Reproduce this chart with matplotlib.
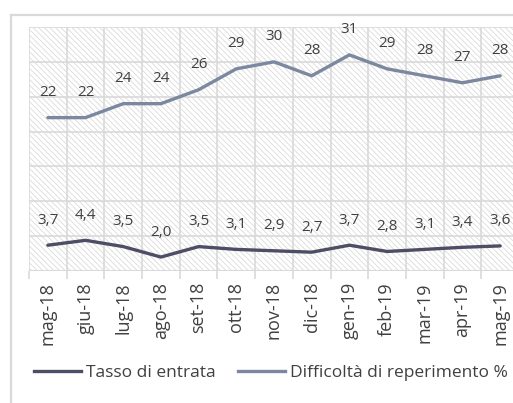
import matplotlib.pyplot as plt
from matplotlib.patches import Rectangle
from matplotlib.lines import Line2D

# Data
months = ['mag-18', 'giu-18', 'lug-18', 'ago-18', 'set-18', 'ott-18', 'nov-18',
          'dic-18', 'gen-19', 'feb-19', 'mar-19', 'apr-19', 'mag-19']
tasso = [3.7, 4.4, 3.5, 2.0, 3.5, 3.1, 2.9, 2.7, 3.7, 2.8, 3.1, 3.4, 3.6]
difficolta = [22, 22, 24, 24, 26, 29, 30, 28, 31, 29, 28, 27, 28]

W, H = 513, 403
plt.rcParams['font.family'] = ['Open Sans', 'DejaVu Sans']
plt.rcParams['hatch.linewidth'] = 0.5
plt.rcParams['hatch.color'] = '#d4d4d4'

fig = plt.figure(figsize=(W / 100, H / 100), dpi=100)
ax = fig.add_axes([29 / W, (H - 271) / H, 490 / W, 244 / H])

grid_c = '#d9d9d9'
text_c = '#404040'
c_tasso = '#4e4d66'
c_diff = '#7b88a0'

x = list(range(len(months)))
ax.set_xlim(-0.5, len(months) - 0.5)
ax.set_ylim(0, 35)

# hatched background
ax.add_patch(Rectangle((-0.5, 0), len(months), 35, facecolor='white',
                       edgecolor='#d4d4d4', hatch='\\' * 6, lw=0, zorder=0))

# grid
for yv in range(5, 36, 5):
    ax.axhline(yv, color=grid_c, lw=1.2, zorder=1)
for xv in range(len(months) + 1):
    ax.axvline(xv - 0.5, color=grid_c, lw=1.2, zorder=1)
ax.axhline(0, color=grid_c, lw=1.5, zorder=1)

ax.plot(x, tasso, color=c_tasso, lw=2.4, zorder=3, solid_capstyle='round')
ax.plot(x, difficolta, color=c_diff, lw=2.4, zorder=3, solid_capstyle='round')

for xi, v in zip(x, tasso):
    ax.annotate(f'{v:.1f}'.replace('.', ','), (xi, v), xytext=(0, 18),
                textcoords='offset points', ha='center', va='center',
                fontsize=11, color=text_c, zorder=4)
for xi, v in zip(x, difficolta):
    ax.annotate(f'{v}', (xi, v), xytext=(0, 18),
                textcoords='offset points', ha='center', va='center',
                fontsize=11, color=text_c, zorder=4)

for s in ax.spines.values():
    s.set_visible(False)
ax.set_yticks([])
ax.set_xticks(x)
ax.set_xticklabels(months, rotation=90, fontsize=13, color=text_c)
ax.tick_params(axis='x', length=0, pad=8)
ax.set_xticks([v - 0.5 for v in range(len(months) + 1)], minor=True)
ax.tick_params(axis='x', which='minor', length=6, width=1.2, color=grid_c)

# legend
handles = [Line2D([], [], color=c_tasso, lw=2.4),
           Line2D([], [], color=c_diff, lw=2.4)]
fig.legend(handles, ['Tasso di entrata', 'Difficoltà di reperimento %'],
           loc='center', bbox_to_anchor=(271 / W, 1 - 373 / H), ncol=2,
           frameon=False, fontsize=12.5, labelcolor=text_c,
           handlelength=2.7, handletextpad=0.3, columnspacing=1.3,
           borderpad=0, borderaxespad=0)

# outer chart frame
fig.add_artist(Line2D([11 / W, 1], [1 - 15 / H, 1 - 15 / H], color=grid_c, lw=1.6))
fig.add_artist(Line2D([11 / W, 11 / W], [0, 1 - 15 / H], color=grid_c, lw=1.6))

fig.savefig('out.png', dpi=100)
